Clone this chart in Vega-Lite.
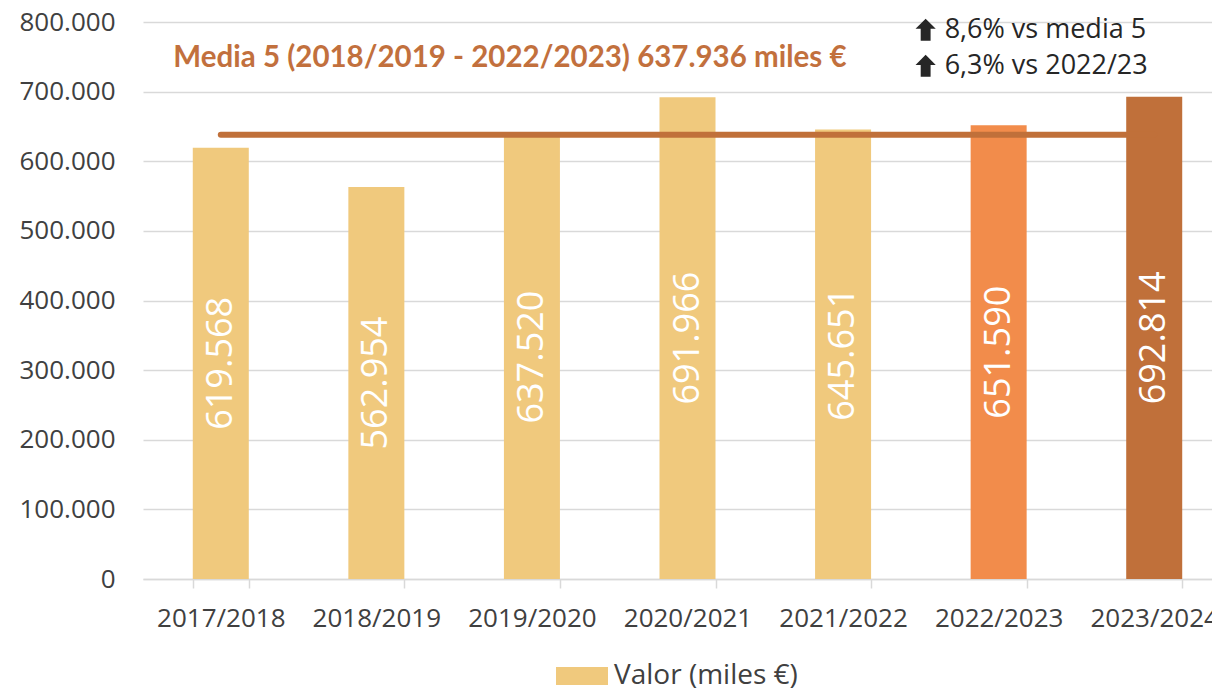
{
  "$schema": "https://vega.github.io/schema/vega-lite/v6.json",
  "autosize": {"type": "none"},
  "width": 1069,
  "height": 557,
  "padding": {"left": 143, "top": 22, "right": 0, "bottom": 112},
  "background": "white",
  "config": {
    "view": {"stroke": null},
    "locale": {"number": {"decimal": ",", "thousands": ".", "grouping": [3], "currency": ["", " €"]}},
    "font": "Open Sans"
  },
  "data": {"values": [
    {"curso": "2017/2018", "valor": 619568, "serie": "Valor (miles €)"},
    {"curso": "2018/2019", "valor": 562954, "serie": "Valor (miles €)"},
    {"curso": "2019/2020", "valor": 637520, "serie": "Valor (miles €)"},
    {"curso": "2020/2021", "valor": 691966, "serie": "Valor (miles €)"},
    {"curso": "2021/2022", "valor": 645651, "serie": "Valor (miles €)"},
    {"curso": "2022/2023", "valor": 651590, "serie": "Valor (miles €)"},
    {"curso": "2023/2024", "valor": 692814, "serie": "Valor (miles €)"}
  ]},
  "encoding": {
    "x": {
      "field": "curso", "type": "nominal", "sort": null,
      "scale": {"range": [0, 1089], "paddingInner": 0.64, "paddingOuter": 0.32},
      "axis": {
        "title": null, "labelAngle": 0, "labelFont": "Open Sans", "labelFontSize": 26,
        "labelColor": "#404040", "labelPadding": 17, "tickBand": "extent",
        "tickSize": 9, "tickColor": "#d9d9d9", "tickWidth": 1.5,
        "domainColor": "#d9d9d9", "domainWidth": 1.5, "grid": false, "labelOverlap": false
      }
    }
  },
  "layer": [
    {
      "mark": {"type": "bar"},
      "encoding": {
        "y": {
          "field": "valor", "type": "quantitative",
          "scale": {"domain": [0, 800000], "nice": false},
          "axis": {
            "title": null, "values": [0, 100000, 200000, 300000, 400000, 500000, 600000, 700000, 800000],
            "format": ",.0f", "labelFont": "Open Sans", "labelFontSize": 26, "labelColor": "#404040",
            "labelPadding": 28, "domain": false, "ticks": false,
            "gridColor": "#d9d9d9", "gridWidth": 1.5
          }
        },
        "color": {
          "condition": [
            {"test": "datum.curso === '2023/2024'", "value": "#C0703A"},
            {"test": "datum.curso === '2022/2023'", "value": "#F28C4B"}
          ],
          "field": "serie", "type": "nominal",
          "scale": {"domain": ["Valor (miles €)"], "range": ["#F0C97D"]},
          "legend": {
            "title": null, "orient": "none", "legendX": 413, "legendY": 628,
            "direction": "horizontal", "padding": 0,
            "symbolType": "M-1,-0.35H1V0.35H-1Z", "symbolSize": 2704,
            "symbolStrokeWidth": 0, "symbolOpacity": 1, "labelLimit": 0,
            "labelFont": "Open Sans", "labelFontSize": 28, "labelColor": "#404040", "labelOffset": 6
          }
        }
      }
    },
    {
      "transform": [{"calculate": "datum.valor / 2", "as": "mitad"}],
      "mark": {"type": "text", "angle": 270, "align": "center", "baseline": "middle", "color": "white", "font": "Open Sans", "fontSize": 36},
      "encoding": {
        "y": {"field": "mitad", "type": "quantitative"},
        "text": {"field": "valor", "type": "quantitative", "format": ",.0f"}
      }
    },
    {
      "data": {"values": [{"media": 637936}]},
      "mark": {"type": "rule", "color": "#C0703A", "strokeWidth": 6, "strokeCap": "round"},
      "encoding": {
        "x": {"datum": "2017/2018"},
        "x2": {"datum": "2023/2024"},
        "y": {"field": "media", "type": "quantitative"}
      }
    },
    {
      "data": {"values": [{"t": "Media 5 (2018/2019 - 2022/2023) 637.936 miles €"}]},
      "mark": {"type": "text", "font": "Lato", "fontWeight": "bold", "fontSize": 29.5, "color": "#C2703D", "align": "center", "baseline": "middle", "dx": -22},
      "encoding": {
        "x": {"datum": "2019/2020"},
        "y": {"datum": 749000},
        "text": {"field": "t"}
      }
    },
    {
      "data": {"values": [{"t": "8,6% vs media 5"}]},
      "mark": {"type": "text", "font": "Open Sans", "fontSize": 27, "color": "#262626", "align": "left", "baseline": "middle", "dx": -54},
      "encoding": {
        "x": {"datum": "2022/2023"},
        "y": {"datum": 788000},
        "text": {"field": "t"}
      }
    },
    {
      "data": {"values": [{"t": "6,3% vs 2022/23"}]},
      "mark": {"type": "text", "font": "Open Sans", "fontSize": 27, "color": "#262626", "align": "left", "baseline": "middle", "dx": -54},
      "encoding": {
        "x": {"datum": "2022/2023"},
        "y": {"datum": 737000},
        "text": {"field": "t"}
      }
    },
    {
      "data": {"values": [{"flecha": "subida"}]},
      "mark": {"type": "point", "filled": true, "color": "#262626", "opacity": 1, "size": 484, "xOffset": -73,
               "shape": "M0,-1L0.92,-0.08H0.45V1H-0.45V-0.08H-0.92Z"},
      "encoding": {
        "x": {"datum": "2022/2023"},
        "y": {"datum": 789000}
      }
    },
    {
      "data": {"values": [{"flecha": "subida"}]},
      "mark": {"type": "point", "filled": true, "color": "#262626", "opacity": 1, "size": 484, "xOffset": -73,
               "shape": "M0,-1L0.92,-0.08H0.45V1H-0.45V-0.08H-0.92Z"},
      "encoding": {
        "x": {"datum": "2022/2023"},
        "y": {"datum": 737000}
      }
    }
  ]
}
